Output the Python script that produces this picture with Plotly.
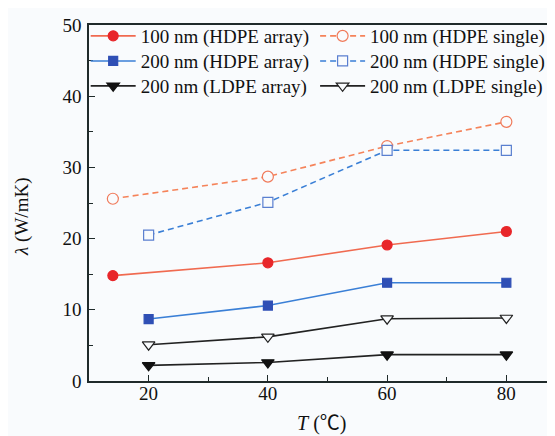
import plotly.graph_objects as go

# Data
x_100 = [14, 40, 60, 80]
x_200 = [20, 40, 60, 80]
hdpe100_array = [14.8, 16.6, 19.1, 21.0]
hdpe100_single = [25.6, 28.7, 33.0, 36.4]
hdpe200_array = [8.7, 10.6, 13.8, 13.8]
hdpe200_single = [20.5, 25.1, 32.4, 32.4]
ldpe200_array = [2.2, 2.6, 3.7, 3.7]
ldpe200_single = [5.1, 6.2, 8.75, 8.85]

names = ["100 nm (HDPE array)", "100 nm (HDPE single)",
         "200 nm (HDPE array)", "200 nm (HDPE single)",
         "200 nm (LDPE array)", "200 nm (LDPE single)"]

FONT = "Liberation Serif"
BG = "#f9fbfd"

fig = go.Figure()

def add(x, y, name, lcolor, mcolor, symbol, size, dash, legend, filled=True):
    fig.add_trace(go.Scatter(
        x=x, y=y, name=name, mode="lines+markers", legend=legend, showlegend=True,
        line=dict(color=lcolor, width=1.6, dash=dash),
        marker=dict(symbol=symbol, size=size,
                    color=mcolor if filled else BG,
                    line=dict(color=mcolor, width=1.2)),
    ))

add(x_100, hdpe100_array, names[0], "#f06a50", "#e8262a", "circle", 10, "solid", "legend")
add(x_200, hdpe200_array, names[2], "#3a7fd6", "#2f4fb5", "square", 9, "solid", "legend2")
add(x_200, ldpe200_array, names[4], "#222222", "#111111", "triangle-down", 11, "solid", "legend3")
add(x_100, hdpe100_single, names[1], "#f5835a", "#f07a5a", "circle", 11, "6px,4px", "legend4", filled=False)
add(x_200, hdpe200_single, names[3], "#3a7fd6", "#5a7fd0", "square", 10, "6px,4px", "legend5", filled=False)
add(x_200, ldpe200_single, names[5], "#222222", "#222222", "triangle-down", 11, "solid", "legend6", filled=False)

axis_common = dict(
    showgrid=False, zeroline=False, showline=True, linecolor="#1f2a2a", linewidth=1.6,
    ticks="inside", ticklen=6, tickwidth=1.4, tickcolor="#1f2a2a",
    tickfont=dict(family=FONT, size=19, color="#111111"),
)

def leg(x, y):
    return dict(x=x, y=y, xanchor="left", yanchor="top", bgcolor="rgba(0,0,0,0)",
                font=dict(family=FONT, size=19, color="#111111"), itemwidth=45, tracegroupgap=0)

row_y = [1.0225, 0.952, 0.882]
col_x = [-0.007, 0.477]

fig.update_layout(
    template="none",
    showlegend=True,
    width=555, height=436,
    margin=dict(l=81, r=0, t=17, b=63),
    paper_bgcolor=BG, plot_bgcolor=BG,
    font=dict(family=FONT, size=18, color="#111111"),
    xaxis=dict(range=[10, 89.5], tick0=0, dtick=20, mirror=True, ticklabelstandoff=-6,
               minor=dict(dtick=10, ticks="inside", ticklen=4, tickwidth=1.2, tickcolor="#1f2a2a"),
               **axis_common),
    yaxis=dict(range=[0, 50], tick0=0, dtick=10, mirror=False, ticklabelstandoff=2,
               minor=dict(dtick=5, ticks="inside", ticklen=4, tickwidth=1.2, tickcolor="#1f2a2a"),
               **axis_common),
    legend=leg(col_x[0], row_y[0]),
    legend2=leg(col_x[0], row_y[1]),
    legend3=leg(col_x[0], row_y[2]),
    legend4=leg(col_x[1], row_y[0]),
    legend5=leg(col_x[1], row_y[1]),
    legend6=leg(col_x[1], row_y[2]),
    annotations=[
        dict(text="<i>λ</i> (W/mK)", x=-0.14, y=0.46, xref="paper", yref="paper",
             xanchor="center", yanchor="middle",
             textangle=-90, showarrow=False, font=dict(family=FONT, size=19)),
        dict(text="<i>T</i> (<span style='font-family:Noto Sans CJK SC'>℃</span>)",
             x=0.49, y=-0.115, xref="paper", yref="paper",
             xanchor="center", yanchor="middle",
             showarrow=False, font=dict(family=FONT, size=20)),
    ],
)

fig.write_html("out.html")
